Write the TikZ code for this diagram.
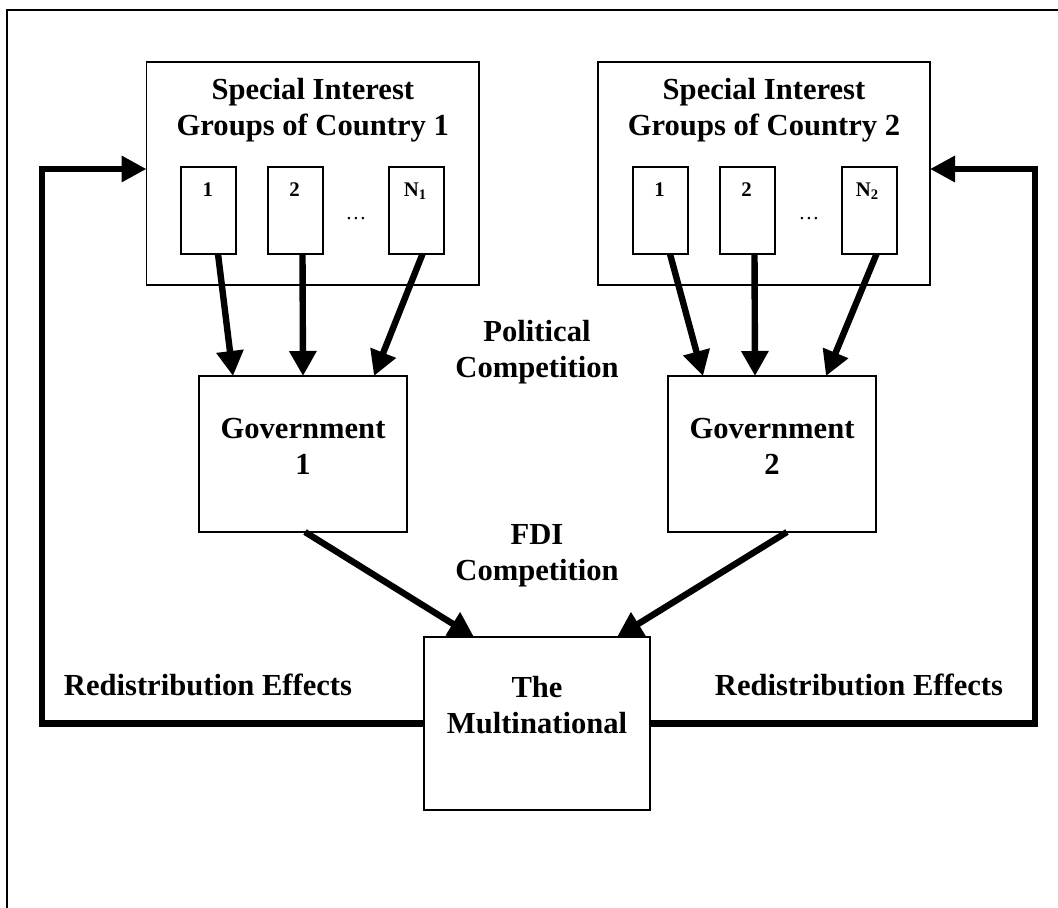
\documentclass[tikz,border=0pt]{standalone}
\usepackage{fontspec}
\setmainfont{Liberation Serif}
\usetikzlibrary{arrows.meta,calc}
\begin{document}
\begin{tikzpicture}[x=0.5pt,y=-0.5pt,
  box/.style={draw, line width=0.75pt, inner sep=0pt, outer sep=0pt, anchor=north west},
  sbox/.style={box, minimum width=27.5pt, minimum height=43.5pt},
  txt/.style={font=\fontsize{15.3}{18}\selectfont\bfseries, align=center, inner sep=0pt},
  small/.style={font=\fontsize{10.4}{12}\selectfont\bfseries, inner sep=0pt, anchor=base},
  dots/.style={font=\fontsize{10.4}{12}\selectfont, inner sep=0pt, anchor=base},
  arr/.style={line width=3.2pt, -{Triangle[length=12.5pt,width=13pt]}},
  fb/.style={line width=3.2pt, line join=miter, -{Triangle[length=12.5pt,width=12.5pt]}},
  frame/.style={line width=0.6pt}]
\useasboundingbox (0,0) rectangle (1058,908);
% outer frame (only top and left edges visible)
\coordinate (frTL) at (7,10);
\coordinate (frTR) at (1058,10);
\coordinate (frBL) at (7,908);
\draw[frame] (frBL) -- (frTL) -- (frTR);

% special interest groups, country 1
\node[box, minimum width=166.25pt, minimum height=111.5pt] (sig1) at (146.5,62) {};
\node[txt] (sig1t) at (312.8,110.3) {Special Interest\\Groups of Country 1};
\node[sbox] (b11) at (181,167) {};
\node[sbox] (b12) at (268,167) {};
\node[sbox] (b1n) at (389,167) {};
\node[small] (l11) at ($(b11.north)+(-0.8,30)$) {1};
\node[small] (l12) at ($(b12.north)+(-1,30)$) {2};
\node[small] (l1n) at ($(b1n.north)+(-1,30)$) {N\textsubscript{1}};
\node[dots] (d1) at (356,220) {…};

% special interest groups, country 2
\node[box, minimum width=166pt, minimum height=111.5pt] (sig2) at (598,62) {};
\node[txt] (sig2t) at (764,110.3) {Special Interest\\Groups of Country 2};
\node[sbox] (b21) at (633,167) {};
\node[sbox] (b22) at (720,167) {};
\node[sbox] (b2n) at (842,167) {};
\node[small] (l21) at ($(b21.north)+(-1,30)$) {1};
\node[small] (l22) at ($(b22.north)+(-1,30)$) {2};
\node[small] (l2n) at ($(b2n.north)+(-2,30)$) {N\textsubscript{2}};
\node[dots] (d2) at (809,220) {…};

% governments
\node[box, minimum width=104pt, minimum height=78pt] (g1) at (199,376) {};
\node[txt] (g1t) at (303,446.5) {Government\\1};
\node[box, minimum width=104pt, minimum height=78pt] (g2) at (668,376) {};
\node[txt] (g2t) at (772,446.5) {Government\\2};

% multinational
\node[box, minimum width=113pt, minimum height=86.5pt] (mnc) at (424,637) {};
\node[txt] (mnct) at (537,705) {The\\Multinational};

% labels
\node[txt] (pol) at (537,351.8) {Political\\Competition};
\node[txt] (fdi) at (537,555.6) {FDI\\Competition};
\node[txt, anchor=base] (re1) at (208,695) {Redistribution Effects};
\node[txt, anchor=base] (re2) at (859,695) {Redistribution Effects};

% arrows: interest groups -> government 1
\draw[arr] ($(b11.south)+(9.5,0)$) -- ($(g1.north west)+(34,0)$);
\draw[arr] ($(b12.south)+(7,0)$) -- ($(g1.north west)+(104,0)$);
\draw[arr] ($(b1n.south)+(6,0)$) -- ($(g1.north west)+(175,0)$);
% arrows: interest groups -> government 2
\draw[arr] ($(b21.south)+(9.5,0)$) -- ($(g2.north west)+(35,0)$);
\draw[arr] ($(b22.south)+(7,0)$) -- ($(g2.north west)+(87,0)$);
\draw[arr] ($(b2n.south)+(7,0)$) -- ($(g2.north west)+(158,0)$);
% governments -> multinational
\draw[arr] ($(g1.south west)+(106,0)$) -- ($(mnc.north west)+(50,0)$);
\draw[arr] ($(g2.south west)+(119,0)$) -- ($(mnc.north west)+(193,0)$);

% redistribution feedback loops
\coordinate (fbL) at (42,169);
\coordinate (fbR) at (1035,169);
\draw[fb] (mnc.west) -| (fbL) -- (fbL -| sig1.west);
\draw[fb] (mnc.east) -| (fbR) -- (fbR -| sig2.east);
\end{tikzpicture}
\end{document}
